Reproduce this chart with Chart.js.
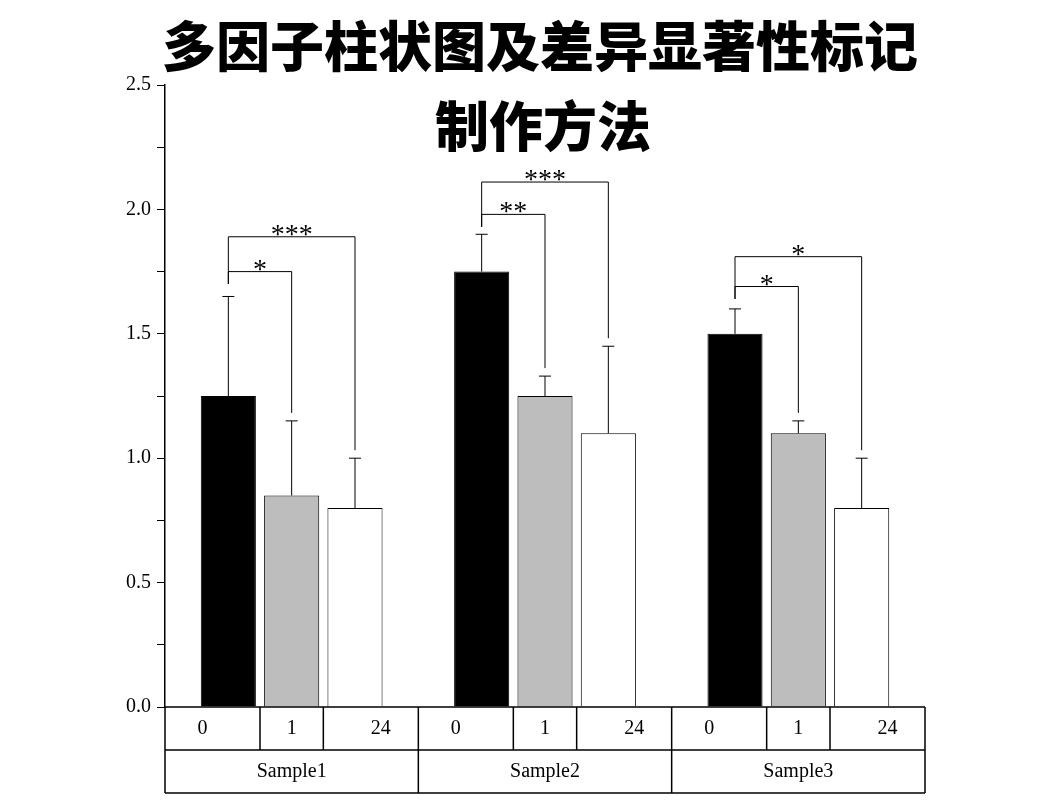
<!DOCTYPE html>
<html><head><meta charset="utf-8">
<script src="https://cdn.jsdelivr.net/npm/chart.js@4"></script>
<style>html,body{margin:0;background:#fff}#w{position:relative;width:1052px;height:800px}</style>
</head><body><div id="w"><canvas id="c" width="1052" height="800"></canvas></div>
<script>
const groups = ['Sample1','Sample2','Sample3'];
const timeLabels = ['0','1','24'];
const vals0 = [1.25, 1.75, 1.50];
const vals1 = [0.85, 1.25, 1.10];
const vals24 = [0.80, 1.10, 0.80];
const err0 = [0.40, 0.15, 0.10];
const err1 = [0.30, 0.08, 0.05];
const err24 = [0.20, 0.35, 0.20];
const innerLevel = [1.75, 1.98, 1.69];
const outerLevel = [1.89, 2.11, 1.81];
const innerStars = ['*','**','*'];
const outerStars = ['***','***','*'];
const yTicks = [0,0.5,1.0,1.5,2.0,2.5];
const titleLines = ['多因子柱状图及差异显著性标记','制作方法'];

const errs=[err0,err1,err24];
const extras={id:'extras',afterDatasetsDraw(ch){
 const c=ch.ctx,y=ch.scales.y,a=ch.chartArea;
 c.save();c.strokeStyle='#000';c.lineWidth=1;
 const metas=[0,1,2].map(i=>ch.getDatasetMeta(i));
 // error bars
 metas.forEach((m,d)=>m.data.forEach((b,g)=>{
  const v=ch.data.datasets[d].data[g],top=y.getPixelForValue(v+errs[d][g]);
  c.beginPath();c.moveTo(b.x,b.y);c.lineTo(b.x,top);c.moveTo(b.x-6,top);c.lineTo(b.x+6,top);c.stroke();
 }));
 // brackets
 c.fillStyle='#000';c.font='28px "Liberation Serif"';c.textAlign='center';c.textBaseline='alphabetic';
 for(let g=0;g<3;g++){
  const x0=metas[0].data[g].x;
  const lv=[[innerLevel[g],1,innerStars[g]],[outerLevel[g],2,outerStars[g]]];
  const leftBottom=y.getPixelForValue(innerLevel[g]-0.05);
  lv.forEach(([L,d,s])=>{
   const yy=y.getPixelForValue(L),x1=metas[d].data[g].x;
   const eb=y.getPixelForValue(ch.data.datasets[d].data[g]+errs[d][g])-8;
   c.beginPath();c.moveTo(x0,leftBottom);c.lineTo(x0,yy);c.lineTo(x1,yy);c.lineTo(x1,eb);c.stroke();
   c.fillText(s,(x0+x1)/2,yy+6);
  });
 }
 // table
 const r1=a.bottom,r2=r1+43,r3=r2+43;
 c.lineWidth=1.5;
 c.beginPath();c.moveTo(a.left,r1);c.lineTo(a.right,r1);c.moveTo(a.left,r2);c.lineTo(a.right,r2);c.moveTo(a.left,r3);c.lineTo(a.right,r3);
 const gw=(a.right-a.left)/3;
 c.font='20px "Liberation Serif"';c.textBaseline='middle';
 for(let g=0;g<=3;g++){const x=a.left+gw*g;c.moveTo(x,r1);c.lineTo(x,r3);}
 for(let g=0;g<3;g++){
  const xs=metas.map(m=>m.data[g].x),w=metas[0].data[g].width;
  const b1=(xs[0]+xs[1])/2,b2=(xs[1]+xs[2])/2;
  c.moveTo(b1,r1);c.lineTo(b1,r2);c.moveTo(b2,r1);c.lineTo(b2,r2);
  const gl=a.left+gw*g;
  c.fillText(timeLabels[0],(gl+b1)/2-10,(r1+r2)/2);c.fillText(timeLabels[1],xs[1],(r1+r2)/2);c.fillText(timeLabels[2],(b2+gl+gw)/2+10,(r1+r2)/2);
  c.fillText(groups[g],gl+gw/2,(r2+r3)/2);
 }
 c.stroke();
 // title
 c.font='900 54px "Noto Sans CJK SC"';c.textBaseline='middle';c.textAlign='center';
 c.fillText(titleLines[0],540,46);c.fillText(titleLines[1],543,126);
 c.restore();
}};
new Chart(document.getElementById('c'),{type:'bar',
 data:{labels:groups,datasets:[
  {data:vals0,backgroundColor:'#000',borderColor:'#000',borderWidth:1},
  {data:vals1,backgroundColor:'#bdbdbd',borderColor:'#000',borderWidth:1},
  {data:vals24,backgroundColor:'#fff',borderColor:'#000',borderWidth:1}]},
 options:{responsive:false,animation:false,events:[],
  categoryPercentage:0.75,barPercentage:0.87,
  layout:{padding:{left:0,right:127,top:85,bottom:93}},
  plugins:{legend:{display:false},tooltip:{enabled:false}},
  scales:{
   x:{display:false},
   y:{min:0,max:2.5,afterFit(s){s.width=165;},
    afterBuildTicks(s){s.ticks=[0,0.25,0.5,0.75,1,1.25,1.5,1.75,2,2.25,2.5].map(v=>({value:v}));},
    grid:{drawOnChartArea:false,color:'#000',tickLength:8,tickColor:'#000'},
    border:{color:'#000',width:1.5},
    ticks:{color:'#000',font:{family:'Liberation Serif',size:20},padding:6,
     callback:v=>yTicks.includes(v)?v.toFixed(1):''}}
  }},
 plugins:[extras]});
</script></body></html>
